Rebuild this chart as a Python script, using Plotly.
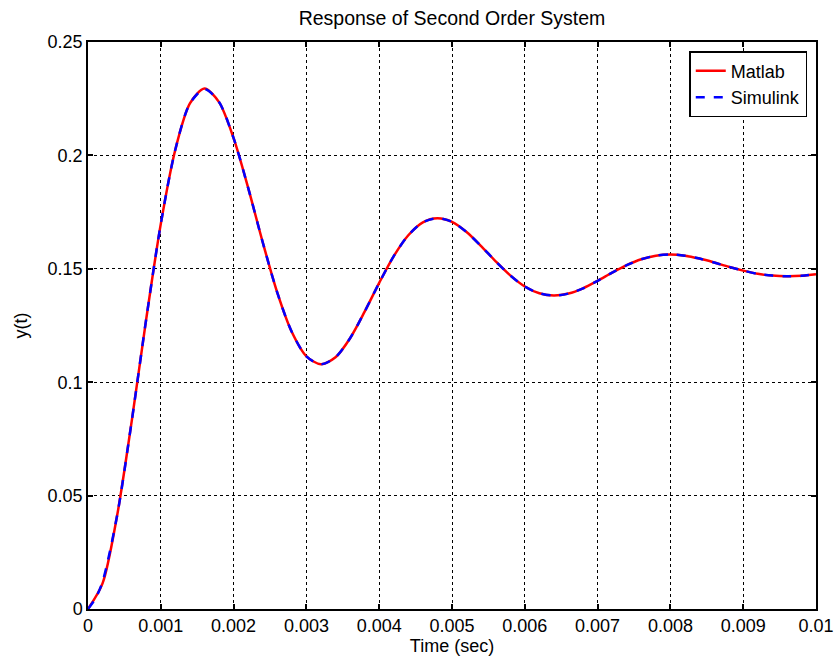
import plotly.graph_objects as go

# time samples (s)
t = [0.0, 0.0002, 0.0004, 0.0006, 0.0008, 0.0010, 0.0012, 0.0014, 0.0016, 0.0018,
     0.0020, 0.0022, 0.0024, 0.0026, 0.0028, 0.0030, 0.0032, 0.0034, 0.0036, 0.0038,
     0.0040, 0.0042, 0.0044, 0.0046, 0.0048, 0.0050, 0.0052, 0.0054, 0.0056, 0.0058,
     0.0060, 0.0062, 0.0064, 0.0066, 0.0068, 0.0070, 0.0072, 0.0074, 0.0076, 0.0078,
     0.0080, 0.0082, 0.0084, 0.0086, 0.0088, 0.0090, 0.0092, 0.0094, 0.0096, 0.0098,
     0.0100]

# values
y_matlab = [0.0000, 0.0113, 0.0412, 0.0827, 0.1279, 0.1698, 0.2026, 0.2229, 0.2295, 0.2235,
            0.2076, 0.1857, 0.1617, 0.1395, 0.1221, 0.1114, 0.1079, 0.1110, 0.1194, 0.1311,
            0.1438, 0.1556, 0.1648, 0.1705, 0.1723, 0.1707, 0.1662, 0.1600, 0.1533, 0.1471,
            0.1422, 0.1392, 0.1382, 0.1391, 0.1414, 0.1447, 0.1483, 0.1516, 0.1542, 0.1558,
            0.1563, 0.1558, 0.1545, 0.1528, 0.1509, 0.1492, 0.1478, 0.1470, 0.1467, 0.1469,
            0.1476]

t_sim = [0.0, 0.0001, 0.0002, 0.0004, 0.0006, 0.0008, 0.0010, 0.0012, 0.0014, 0.0016, 0.0018,
         0.0020, 0.0022, 0.0024, 0.0026, 0.0028, 0.0030, 0.0032, 0.0034, 0.0036, 0.0038,
         0.0040, 0.0042, 0.0044, 0.0046, 0.0048, 0.0050, 0.0052, 0.0054, 0.0056, 0.0058,
         0.0060, 0.0062, 0.0064, 0.0066, 0.0068, 0.0070, 0.0072, 0.0074, 0.0076, 0.0078,
         0.0080, 0.0082, 0.0084, 0.0086, 0.0088, 0.0090, 0.0092, 0.0094, 0.0096, 0.0098,
         0.0100]
y_simulink = [0.0000, 0.0045, 0.0120, 0.0412, 0.0827, 0.1279, 0.1698, 0.2026, 0.2229, 0.2292, 0.2235,
              0.2076, 0.1857, 0.1617, 0.1395, 0.1221, 0.1114, 0.1079, 0.1110, 0.1194, 0.1311,
              0.1438, 0.1556, 0.1648, 0.1705, 0.1723, 0.1707, 0.1662, 0.1600, 0.1533, 0.1471,
              0.1422, 0.1392, 0.1382, 0.1391, 0.1414, 0.1447, 0.1483, 0.1516, 0.1542, 0.1558,
              0.1563, 0.1558, 0.1545, 0.1528, 0.1509, 0.1492, 0.1478, 0.1470, 0.1467, 0.1469,
              0.1476]

x_ticks = [0, 0.001, 0.002, 0.003, 0.004, 0.005, 0.006, 0.007, 0.008, 0.009, 0.01]
x_ticklabels = ["0", "0.001", "0.002", "0.003", "0.004", "0.005", "0.006", "0.007", "0.008", "0.009", "0.01"]
y_ticks = [0, 0.05, 0.1, 0.15, 0.2, 0.25]
y_ticklabels = ["0", "0.05", "0.1", "0.15", "0.2", "0.25"]

FONT = "Liberation Sans, Arial, sans-serif"
FS = 18
W, H = 835, 661

fig = go.Figure()
fig.add_trace(go.Scatter(x=t, y=y_matlab, mode="lines", name="Matlab",
                         line=dict(color="#ff0000", width=2.5, shape="spline", smoothing=0.8)))
fig.add_trace(go.Scatter(x=t_sim, y=y_simulink, mode="lines", name="Simulink",
                         line=dict(color="#0000ff", width=2.5, dash="dash",
                                   shape="spline", smoothing=0.8)))

axis_common = dict(
    showline=True, linecolor="black", linewidth=1.5, mirror="ticks",
    ticks="inside", ticklen=5, tickcolor="black", tickwidth=1.5,
    showgrid=True, gridcolor="black", gridwidth=1, griddash="dot",
    zeroline=False, automargin=False,
    tickfont=dict(family=FONT, size=FS, color="black"),
)

fig.update_layout(
    width=W, height=H,
    margin=dict(l=88, r=19, t=42, b=52),
    paper_bgcolor="white", plot_bgcolor="white",
    font=dict(family=FONT, size=FS, color="black"),
    title=dict(text="Response of Second Order System", x=0.5, xref="paper",
               y=1 - 18 / H, yref="container", yanchor="middle",
               font=dict(family=FONT, size=19.5, color="black")),
    showlegend=True,
    legend=dict(x=0.988, y=0.984, xanchor="right", yanchor="top",
                bordercolor="black", borderwidth=1.5, bgcolor="white",
                font=dict(family=FONT, size=FS, color="black"),
                tracegroupgap=0),
    xaxis=dict(range=[0, 0.01], tickvals=x_ticks, ticktext=x_ticklabels,
               title=dict(text="Time (sec)", standoff=4,
                          font=dict(family=FONT, size=FS, color="black")),
               **axis_common),
    yaxis=dict(range=[0, 0.25], tickvals=y_ticks, ticktext=y_ticklabels,
               title=dict(text="y(t)", standoff=15,
                          font=dict(family=FONT, size=FS, color="black")),
               **axis_common),
)

fig.write_html(
    "out.html",
    config={"displayModeBar": False},
    post_script="document.body.style.margin='0';document.body.style.overflow='hidden';",
)
